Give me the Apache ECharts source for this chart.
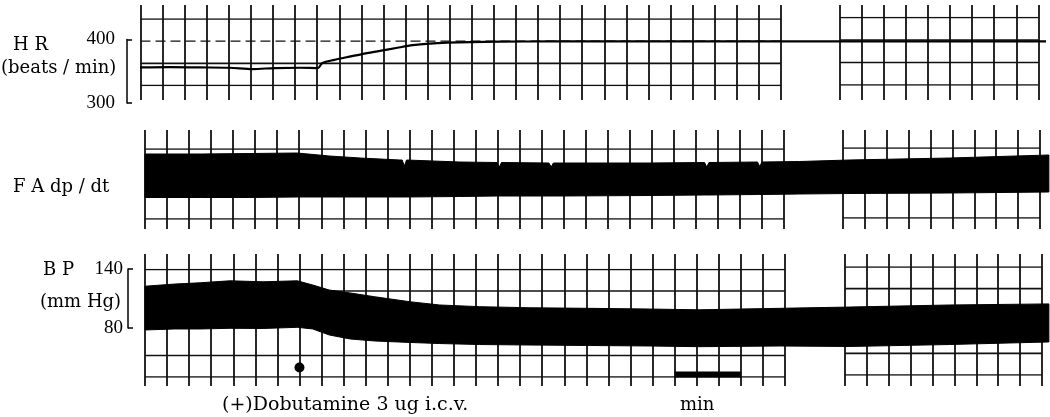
<!DOCTYPE html>
<html>
<head>
<meta charset="utf-8">
<script src="https://cdn.jsdelivr.net/npm/echarts@6/dist/echarts.min.js"></script>
<style>
html,body{margin:0;padding:0;background:#fff;}
#c{width:1050px;height:417px;}
</style>
</head>
<body>
<div id="c"></div>
<script>
// ------------------------- DATA (read from the recording) -------------------------
// time in seconds from start of the trace (1 paper square = 20 s, "min" bar = 3 squares)
const hrTime  = [0, 27, 54, 81, 102, 122, 145, 161, 165, 176, 187, 201, 217, 233, 247, 262, 278, 299, 326, 371, 416, 507, 580, 633, 733, 820];
const hrValue = [356, 356.5, 356, 355.5, 353.5, 355, 355.5, 355, 363, 368, 372, 377, 382, 387, 391, 393.5, 395, 396, 396.5, 397, 397, 397, 397, 397, 397, 397];

// FA dp/dt envelope (arbitrary units)
const faTime   = [0, 50, 95, 138, 167, 195, 231, 233, 235, 237, 285, 319, 321, 323, 366, 368, 370, 376, 457, 507, 509, 511, 555, 557, 559, 593, 638, 729, 819];
const faTop    = [76, 76, 76.5, 77, 74, 72, 70, 70, 64, 70, 68, 67.5, 63, 67.5, 67, 63, 67, 67, 67, 67.5, 63, 67.5, 68, 63.5, 68, 68.5, 70, 72, 75];
const faBottom = [32.5, 32.5, 32.5, 33, 33, 33, 33, 33, 33, 33, 33.5, 34, 34, 34, 34, 34, 34, 34, 34.5, 35, 35, 35, 35.5, 35.5, 35.5, 36, 36.5, 37, 38];

// BP envelope (mm Hg)
const bpTime      = [0, 27, 50, 77, 107, 138, 152, 167, 186, 208, 240, 267, 303, 348, 403, 457, 502, 575, 638, 729, 819];
const bpSystolic  = [122.5, 124.7, 126, 128, 127, 128, 123.7, 118.6, 115.6, 111.8, 106.7, 103.4, 101.7, 100.6, 100, 99.3, 98.5, 100, 101.3, 103.4, 104.5];
const bpDiastolic = [78, 79, 79, 79.7, 79.5, 80.7, 79, 72.9, 68.8, 66.8, 65.3, 64.2, 63.2, 62.7, 62.2, 61.7, 61, 61.7, 61.2, 63.2, 65.8];

const hrAxisTicks = [300, 400];
const bpAxisTicks = [80, 140];
const injectionSquare = [7];        // paper square of the dobutamine marker
const minuteBarSquares = [24, 27];  // 1 min calibration bar

const labels = {
  hr: 'H R', hrUnit: '(beats / min)', fa: 'F A dp / dt', bp: 'B P', bpUnit: '(mm Hg)',
  drug: '(+)Dobutamine 3 ug i.c.v.', min: 'min'
};

// ------------------------- LAYOUT -------------------------
const INK = '#000';
const SERIF = '"DejaVu Serif", serif';
const NUMFONT = '"Liberation Serif", serif';
const T_MAX = 820, TRACE_W = 906;

const paperPanels = [
  { vTop: 5, vBottom: 100, rowMax: 3, rows: [0, 1, 2, 3],
    segs: [ {left: 140.5, right: 781, n: 29, rowTop: 19, rowBottom: 85.5, dashedRow: 1},
            {left: 840, right: 1038.3, n: 9, rowTop: 17.5, rowBottom: 85} ] },
  { vTop: 130, vBottom: 229, rowMax: 3, rows: [0, 3],
    segs: [ {left: 145, right: 784, n: 29, rowTop: 149, rowBottom: 219},
            {left: 843, right: 1040, n: 9, rowTop: 148, rowBottom: 218} ] },
  { vTop: 254, vBottom: 386, rowMax: 5, rows: [0, 1, 4, 5],
    segs: [ {left: 145, right: 785, n: 29, rowTop: 269.5, rowBottom: 377},
            {left: 845, right: 1042, n: 9, rowTop: 267, rowBottom: 375} ] }
];

const grids = [], xAxes = [], yAxes = [], series = [];
function addGrid(g, x, y) {
  grids.push(g);
  const i = grids.length - 1;
  xAxes.push(Object.assign({ gridIndex: i }, x));
  yAxes.push(Object.assign({ gridIndex: i }, y));
  return i;
}
const hid = (min, max, extra) => Object.assign({ type: 'value', min, max, show: false }, extra || {});

let bpRowGrid = null;
paperPanels.forEach((p, pi) => {
  p.segs.forEach((s, si) => {
    // vertical paper lines
    addGrid({ left: s.left, top: p.vTop, width: s.right - s.left, height: p.vBottom - p.vTop },
      { type: 'value', min: 0, max: s.n, interval: 1,
        axisLine: { show: false }, axisTick: { show: false }, axisLabel: { show: false },
        splitLine: { show: true, lineStyle: { color: '#111', width: 1.8 } } },
      hid(0, 1));
    // horizontal paper lines
    const gi = addGrid({ left: s.left, top: s.rowTop, width: s.right - s.left, height: s.rowBottom - s.rowTop },
      hid(0, s.n), hid(0, p.rowMax, { inverse: true }));
    p.rows.forEach(r => {
      const dashed = s.dashedRow === r;
      series.push({ type: 'line', xAxisIndex: gi, yAxisIndex: gi, silent: true, symbol: 'none',
        data: [[0, r], [s.n, r]],
        lineStyle: { color: '#111', width: dashed ? 1.2 : 1.6, type: dashed ? [10, 5] : 'solid' }, z: 1 });
    });
    if (pi === 2 && si === 0) bpRowGrid = gi;
  });
});

// traces
const axisStyle = (offset, margin, ticks) => ({
  type: 'value', min: ticks[0], max: ticks[1], interval: ticks[1] - ticks[0], offset,
  axisLine: { show: true, onZero: false, lineStyle: { color: INK, width: 1.5 } },
  axisTick: { show: true, inside: true, length: 5, lineStyle: { color: INK, width: 1.5 } },
  axisLabel: { show: true, margin, color: INK, fontFamily: NUMFONT, fontSize: 19 },
  splitLine: { show: false }
});

// envelope of a pen trace: one polygon through all (time, upper) and back through (time, lower)
function bandSeries(g, time, top, bottom) {
  return {
    type: 'custom', xAxisIndex: g, yAxisIndex: g, z: 5, silent: true, clip: false,
    data: time.map((t, i) => [t, top[i], bottom[i]]),
    encode: { x: 0, y: [1, 2] },
    renderItem(params, api) {
      if (params.dataIndexInside !== 0) return null;
      const n = params.dataInsideLength;
      const upper = [], lower = [];
      for (let j = 0; j < n; j++) {
        upper.push(api.coord([api.value(0, j), api.value(1, j)]));
        lower.push(api.coord([api.value(0, j), api.value(2, j)]));
      }
      return { type: 'polygon', shape: { points: upper.concat(lower.reverse()) },
        style: { fill: INK, stroke: INK, lineWidth: 1 } };
    }
  };
}

const hrG = addGrid({ left: 140, top: 39.5, width: TRACE_W, height: 63.5 },
  hid(0, T_MAX), axisStyle(13, 12, hrAxisTicks));
series.push({ type: 'line', xAxisIndex: hrG, yAxisIndex: hrG, symbol: 'none', smooth: 0.3, z: 5,
  data: hrTime.map((t, i) => [t, hrValue[i]]), lineStyle: { color: INK, width: 2.2 } });

const faG = addGrid({ left: 145, top: 130, width: TRACE_W, height: 100 }, hid(0, T_MAX), hid(0, 100));
series.push(bandSeries(faG, faTime, faTop, faBottom));

const bpG = addGrid({ left: 145, top: 269, width: TRACE_W, height: 59 },
  hid(0, T_MAX), axisStyle(17, 5, bpAxisTicks));
series.push(bandSeries(bpG, bpTime, bpSystolic, bpDiastolic));

// injection marker and 1-min bar on the BP paper
series.push({ type: 'scatter', xAxisIndex: bpRowGrid, yAxisIndex: bpRowGrid, symbolSize: 10, z: 6,
  itemStyle: { color: INK, opacity: 1 }, data: injectionSquare.map(s => [s, 4.56]) });
series.push({ type: 'line', xAxisIndex: bpRowGrid, yAxisIndex: bpRowGrid, symbol: 'none', z: 6,
  data: minuteBarSquares.map(s => [s, 4.88]), lineStyle: { color: INK, width: 6, cap: 'butt' } });

const txt = (text, x, y, size) => ({ type: 'text', x, y, silent: true,
  style: { text, font: (size || 18) + 'px ' + SERIF, fill: INK, textAlign: 'left', textVerticalAlign: 'middle' } });

const chart = echarts.init(document.getElementById('c'));
chart.setOption({
  animation: false,
  backgroundColor: '#fff',
  grid: grids, xAxis: xAxes, yAxis: yAxes, series,
  graphic: [
    txt(labels.hr, 13, 45), txt(labels.hrUnit, 1, 68), txt(labels.fa, 13, 187),
    txt(labels.bp, 43, 270), txt(labels.bpUnit, 40, 302),
    txt(labels.drug, 222, 405, 19), txt(labels.min, 680, 405)
  ]
});
</script>
</body>
</html>
